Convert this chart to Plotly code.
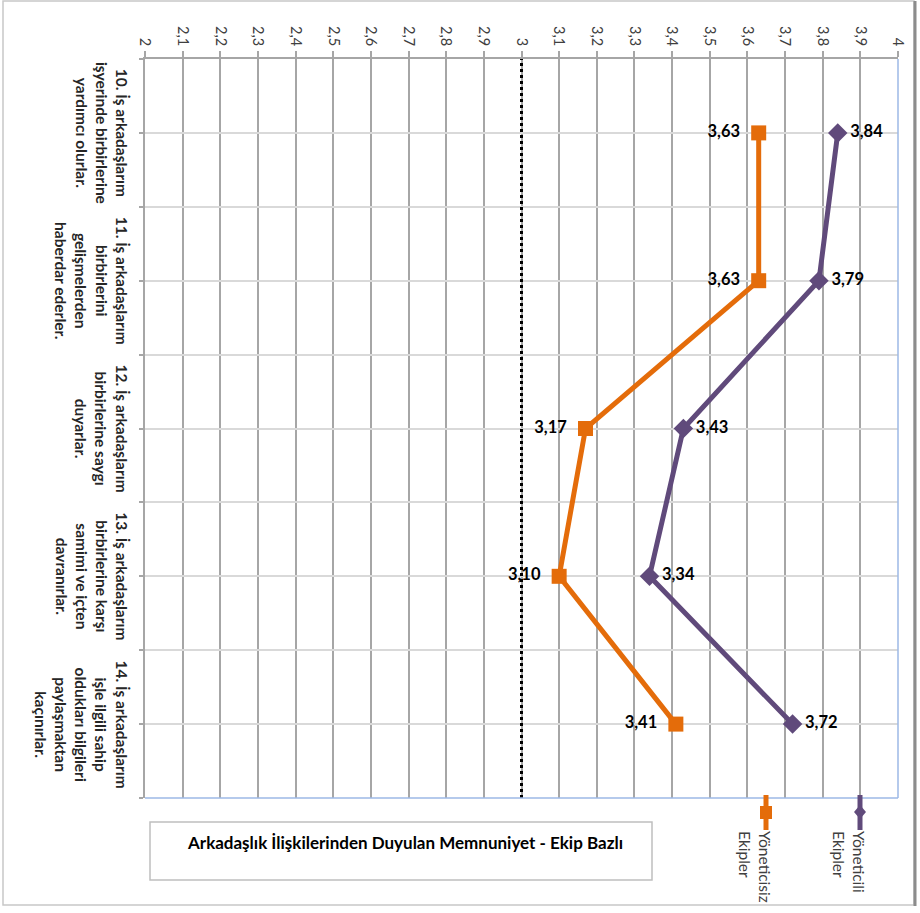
import plotly.graph_objects as go

# Survey items (team-based satisfaction with co-worker relations)
items = [
    "10. İş arkadaşlarım<br>işyerinde birbirlerine<br>yardımcı olurlar.",
    "11. İş arkadaşlarım<br>birbirlerini<br>gelişmelerden<br>haberdar ederler.",
    "12. İş arkadaşlarım<br>birbirlerine saygı<br>duyarlar.",
    "13. İş arkadaşlarım<br>birbirlerine karşı<br>samimi ve içten<br>davranırlar.",
    "14. İş arkadaşlarım<br>işle ilgili sahip<br>oldukları bilgileri<br>paylaşmaktan<br>kaçınırlar.",
]
with_manager = [3.84, 3.79, 3.43, 3.34, 3.72]      # Yöneticili Ekipler
without_manager = [3.63, 3.63, 3.17, 3.10, 3.41]   # Yöneticisiz Ekipler

value_ticks = [2.0, 2.1, 2.2, 2.3, 2.4, 2.5, 2.6, 2.7, 2.8, 2.9,
               3.0, 3.1, 3.2, 3.3, 3.4, 3.5, 3.6, 3.7, 3.8, 3.9, 4.0]
value_tick_labels = ["2", "2,1", "2,2", "2,3", "2,4", "2,5", "2,6", "2,7", "2,8", "2,9",
                     "3", "3,1", "3,2", "3,3", "3,4", "3,5", "3,6", "3,7", "3,8", "3,9", "4"]
reference_level = 3

title_text = "Arkadaşlık İlişkilerinden Duyulan Memnuniyet - Ekip Bazlı"
series_names = ["Yöneticisiz<br>Ekipler", "Yöneticili<br>Ekipler"]

ORANGE = "#E46C0A"
PURPLE = "#604A7B"
FONT = "Lato"
GAP_LEFT = "\u2002"
GAP_RIGHT = "\u2009"

W, H = 920, 913
L, R, T, B = 145, 22, 59, 115
PW, PH = W - L - R, H - T - B

def px(x):
    return (x - L) / PW

def py(y):
    return (H - B - y) / PH

item_pos = [i + 0.5 for i in range(len(items))]

fig = go.Figure()

fig.add_trace(go.Scatter(
    x=without_manager, y=item_pos, mode="lines+markers+text",
    line=dict(color=ORANGE, width=5),
    marker=dict(symbol="square", size=15, color=ORANGE),
    texttemplate="%{x:.2f}" + GAP_LEFT, textposition="middle left",
    textfont=dict(family=FONT, size=16.5, color="#000000", weight="bold"),
    showlegend=False, cliponaxis=False,
))
fig.add_trace(go.Scatter(
    x=with_manager, y=item_pos, mode="lines+markers+text",
    line=dict(color=PURPLE, width=5),
    marker=dict(symbol="diamond", size=15, color=PURPLE),
    texttemplate=GAP_RIGHT + "%{x:.2f}", textposition="middle right",
    textfont=dict(family=FONT, size=16.5, color="#000000", weight="bold"),
    showlegend=False, cliponaxis=False,
))

shapes = []
# dotted reference line
shapes.append(dict(type="line", xref="x", yref="y domain", x0=reference_level, x1=reference_level,
                   y0=0, y1=1, line=dict(color="#000000", width=3, dash="dot"), layer="above"))
# right and bottom plot border
shapes.append(dict(type="line", xref="x domain", yref="y domain", x0=1, x1=1, y0=0, y1=1,
                   line=dict(color="#9DB9E6", width=1.5)))
shapes.append(dict(type="line", xref="x domain", yref="y domain", x0=0, x1=1, y0=0, y1=0,
                   line=dict(color="#9DB9E6", width=1.5)))
# chart title box
shapes.append(dict(type="rect", xref="paper", yref="paper", x0=px(150), x1=px(652),
                   y0=py(822), y1=py(880), line=dict(color="#BFBFBF", width=1.5)))
# outer frame
shapes.append(dict(type="rect", xref="paper", yref="paper", x0=px(3), x1=px(914),
                   y0=py(1), y1=py(905), line=dict(color="#C8C8C8", width=1.5)))
shapes.append(dict(type="line", xref="paper", yref="paper", x0=px(915), x1=px(915),
                   y0=py(1), y1=py(906), line=dict(color="#8C8C8C", width=3)))

# legend keys
for cx, color, sym in [(766, ORANGE, "square"), (860, PURPLE, "diamond")]:
    shapes.append(dict(type="line", xref="paper", yref="paper", x0=px(cx), x1=px(cx),
                       y0=py(795), y1=py(830), line=dict(color=color, width=5)))
    if sym == "square":
        shapes.append(dict(type="rect", xref="paper", yref="paper", x0=px(cx - 6), x1=px(cx + 6),
                           y0=py(806), y1=py(819), fillcolor=color, line=dict(width=0)))
    else:
        path = "M {} {} L {} {} L {} {} L {} {} Z".format(
            px(cx), py(805), px(cx + 6), py(812), px(cx), py(819), px(cx - 6), py(812))
        shapes.append(dict(type="path", xref="paper", yref="paper", path=path,
                           fillcolor=color, line=dict(width=0)))

annotations = []
for label, pos in zip(items, item_pos):
    annotations.append(dict(
        text=label, x=0, xref="paper", y=pos, yref="y", xanchor="right", yanchor="middle",
        xshift=-12, textangle=90, align="center", showarrow=False,
        font=dict(family=FONT, size=15.5, color="#262626", weight="bold"),
    ))
for name, right in zip(series_names, [776, 870]):
    annotations.append(dict(
        text=name, x=px(right), xref="paper", y=py(829), yref="paper",
        xanchor="right", yanchor="top", textangle=90, align="left", showarrow=False,
        font=dict(family=FONT, size=15.5, color="#404040"),
    ))
annotations.append(dict(
    text=f"<b>{title_text}</b>", x=px(405), xref="paper", y=py(842), yref="paper",
    xanchor="center", yanchor="middle", showarrow=False,
    font=dict(family=FONT, size=17, color="#000000"),
))

fig.update_layout(
    width=W, height=H,
    margin=dict(l=L, r=R, t=T, b=B),
    paper_bgcolor="#FFFFFF", plot_bgcolor="#FFFFFF",
    separators=",.",
    showlegend=False,
    shapes=shapes, annotations=annotations,
    xaxis=dict(
        range=[2, 4], side="top", tickmode="array", tickvals=value_ticks, ticktext=value_tick_labels,
        tickangle=90, ticks="outside", ticklen=6, tickcolor="#A6A6A6", tickwidth=1.5,
        showline=True, linecolor="#A6A6A6", linewidth=1.5,
        showgrid=True, gridcolor="#A6A6A6", gridwidth=1.5, zeroline=False,
        tickfont=dict(family=FONT, size=14.5, color="#404040"),
    ),
    yaxis=dict(
        range=[len(items), 0], tick0=0, dtick=0.5, showticklabels=False,
        ticks="outside", ticklen=4, tickcolor="#A6A6A6", tickwidth=1.5,
        showline=True, linecolor="#A6A6A6", linewidth=1.5,
        showgrid=True, gridcolor="#D9D9D9", gridwidth=1.5, zeroline=False,
    ),
)

fig.write_html("out.html")
